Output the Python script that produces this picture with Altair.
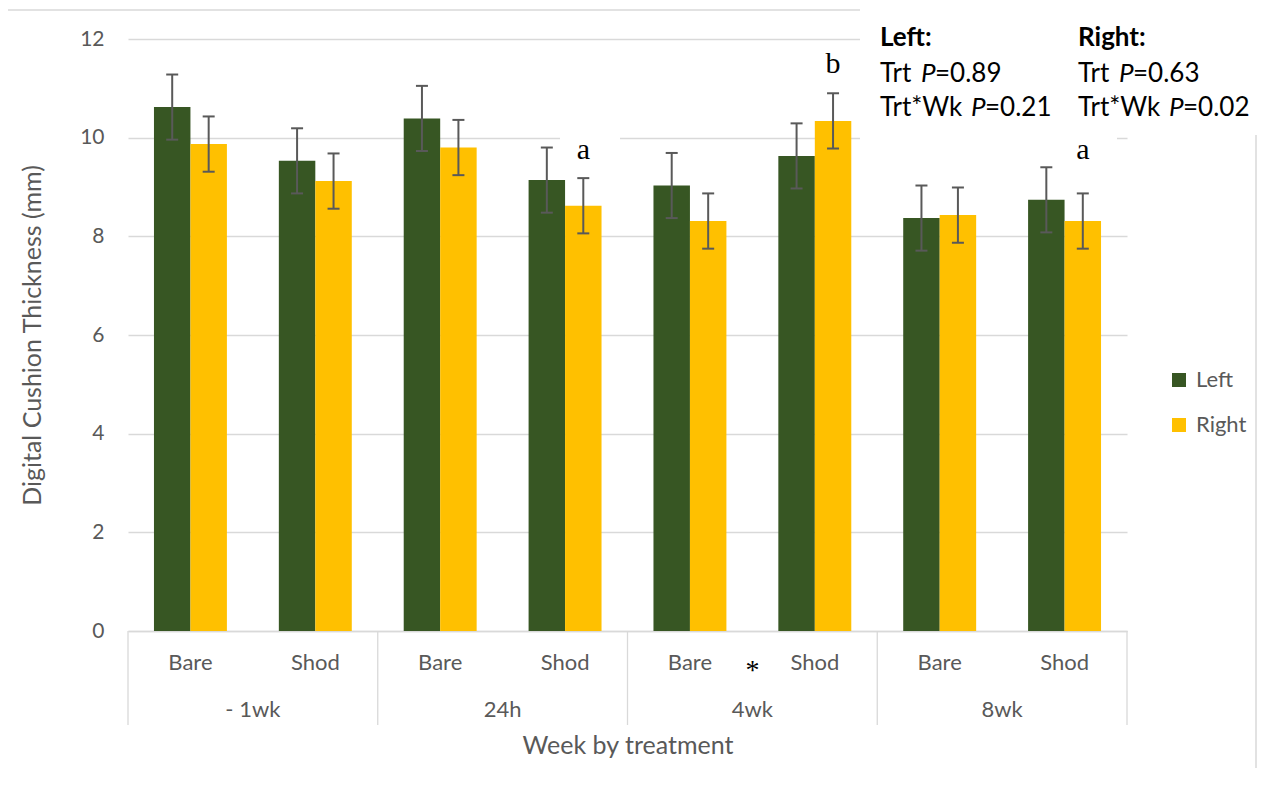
import altair as alt
import pandas as pd

# ---------------- data ----------------
weeks = ["- 1wk", "24h", "4wk", "8wk"]
treatments = ["Bare", "Shod"]
sides = ["Left", "Right"]
side_colors = ["#375623", "#FFC000"]

left_mean = [10.62, 9.53, 10.39, 9.14, 9.03, 9.63, 8.37, 8.74]
right_mean = [9.87, 9.12, 9.80, 8.62, 8.31, 10.34, 8.43, 8.31]
left_se = [0.66, 0.66, 0.66, 0.66, 0.66, 0.66, 0.66, 0.66]
right_se = [0.56, 0.56, 0.56, 0.56, 0.56, 0.56, 0.56, 0.56]

letter_week = ["24h", "4wk", "8wk"]
letter_trt = ["Shod", "Shod", "Shod"]
letter_side = ["Right", "Right", "Right"]
letter_text = ["a", "b", "a"]
letter_y = [9.75, 11.5, 9.75]

star_week = ["4wk"]
star_text = ["*"]

# ---------------- tables ----------------
keys = [f"{w}|{t}" for w in weeks for t in treatments]
rows = []
for i, k in enumerate(keys):
    rows.append({"key": k, "side": "Left", "mean": left_mean[i],
                 "lo": left_mean[i] - left_se[i], "hi": left_mean[i] + left_se[i]})
    rows.append({"key": k, "side": "Right", "mean": right_mean[i],
                 "lo": right_mean[i] - right_se[i], "hi": right_mean[i] + right_se[i]})
df = pd.DataFrame(rows)
caps_df = pd.concat([
    df[["key", "side", "lo"]].rename(columns={"lo": "v"}),
    df[["key", "side", "hi"]].rename(columns={"hi": "v"}),
])
letters_df = pd.DataFrame({
    "key": [f"{w}|{t}" for w, t in zip(letter_week, letter_trt)],
    "side": letter_side, "text": letter_text, "y": letter_y,
})
weeks_df = pd.DataFrame({"week": weeks})
star_df = pd.DataFrame({"week": star_week, "text": star_text})

GRAY = "#595959"
LINE = "#d9d9d9"
SANS = "Lato"
SERIF = "Liberation Serif"

x_axis = alt.Axis(
    labelExpr="split(datum.value, '|')[1]", labelAngle=0, labelFontSize=22,
    labelColor=GRAY, labelBaseline="middle", labelPadding=31, ticks=False, tickSize=0,
    domainColor=LINE, domainWidth=1.3, title="Week by treatment", titleFontSize=25,
    titleColor=GRAY, titleFontWeight="normal", titleY=114, titleX=499.5,
    titleAlign="center", titleBaseline="middle", grid=False,
)
x_scale = alt.Scale(domain=keys, paddingInner=0, paddingOuter=0)
def X():
    return alt.X("key:N", scale=x_scale, axis=x_axis, title="Week by treatment")

xoff = alt.XOffset("side:N", scale=alt.Scale(domain=sides, paddingInner=0, paddingOuter=0.712))

y_scale = alt.Scale(domain=[0, 12], nice=False)
y_axis = alt.Axis(
    values=[0, 2, 4, 6, 8, 10, 12], labelFontSize=21, labelColor=GRAY, labelPadding=24,
    ticks=False, tickSize=0, domain=False, gridColor=LINE, gridWidth=1.3,
    title="Digital Cushion Thickness (mm)", titleFontSize=25, titleColor=GRAY,
    titleFontWeight="normal", titleX=-96, titleY=296, titleAngle=270,
    titleAlign="center", titleBaseline="middle",
)
def Y(field):
    return alt.Y(field, scale=y_scale, axis=y_axis, title="Digital Cushion Thickness (mm)")

color = alt.Color(
    "side:N", scale=alt.Scale(domain=sides, range=side_colors),
    legend=alt.Legend(orient="none", legendX=1040, legendY=330, title=None,
                      symbolType="square", symbolSize=196, symbolStrokeWidth=0,
                      labelFontSize=22, labelColor=GRAY, rowPadding=23,
                      labelOffset=6, padding=0),
)

bars = alt.Chart(df).mark_bar().encode(x=X(), xOffset=xoff, y=Y("mean:Q"), color=color)
err = alt.Chart(df).mark_rule(color=GRAY, strokeWidth=2).encode(
    x=X(), xOffset=xoff, y=Y("lo:Q"), y2="hi:Q")
caps = alt.Chart(caps_df).mark_point(shape="M-1,0L1,0", size=144, color=GRAY,
                                     strokeWidth=2, filled=False, opacity=1).encode(
    x=X(), xOffset=xoff, y=Y("v:Q"))
letters = alt.Chart(letters_df).mark_text(font=SERIF, fontSize=30, color="black",
                                          baseline="middle").encode(
    x=X(), xOffset=xoff, y=Y("y:Q"), text="text:N")
main = alt.layer(bars, err, caps, letters)

# ---- second-level category axis (weeks) ----
wk_scale = alt.Scale(domain=weeks, paddingInner=0, paddingOuter=0)
week_text = alt.Chart(weeks_df).mark_text(font=SANS, fontSize=22, color=GRAY,
                                          baseline="middle").encode(
    x=alt.X("week:N", scale=wk_scale, axis=None), y=alt.value(671), text="week:N")
seps = alt.Chart(weeks_df).mark_rule(color=LINE, strokeWidth=1.3).encode(
    x=alt.X("week:N", scale=wk_scale, axis=None, bandPosition=0),
    y=alt.value(592), y2=alt.value(686))
sep_end = alt.Chart(weeks_df.tail(1)).mark_rule(color=LINE, strokeWidth=1.3).encode(
    x=alt.X("week:N", scale=wk_scale, axis=None, bandPosition=1),
    y=alt.value(592), y2=alt.value(686))
star = alt.Chart(star_df).mark_text(font=SERIF, fontSize=28, color="black",
                                    baseline="middle").encode(
    x=alt.X("week:N", scale=wk_scale, axis=None), y=alt.value(632), text="text:N")
week_layer = alt.layer(seps, sep_end, week_text, star)

# ---- frame and white boxes ----
one = pd.DataFrame({"d": [0]})
frame_left = alt.Chart(one).mark_rule(color=LINE, strokeWidth=1.5).encode(
    x=alt.value(-121), y=alt.value(-29), y2=alt.value(729))
frame_top = alt.Chart(one).mark_rule(color=LINE, strokeWidth=1.5).encode(
    x=alt.value(-121), x2=alt.value(732), y=alt.value(-29))
frame_right = alt.Chart(one).mark_rule(color=LINE, strokeWidth=1.5).encode(
    x=alt.value(1128), y=alt.value(96), y2=alt.value(729))
box1 = alt.Chart(one).mark_rect(color="white").encode(
    x=alt.value(732), x2=alt.value(1002), y=alt.value(-19), y2=alt.value(81))
box2 = alt.Chart(one).mark_rect(color="white").encode(
    x=alt.value(732), x2=alt.value(989), y=alt.value(81), y2=alt.value(103))
box3 = alt.Chart(one).mark_rect(color="white").encode(
    x=alt.value(432), x2=alt.value(492), y=alt.value(92), y2=alt.value(106))

# ---- P-value annotation ----
bold_df = pd.DataFrame({"t": ["Left:", "Right:"], "x": [752, 950], "y": [-1, -1]})
norm_df = pd.DataFrame({
    "t": ["Trt", "=0.89", "Trt*Wk", "=0.21", "Trt", "=0.63", "Trt*Wk", "=0.02"],
    "x": [752, 807, 752, 857, 950, 1005, 950, 1055],
    "y": [35, 35, 69, 69, 35, 35, 69, 69],
})
ital_df = pd.DataFrame({"t": ["P", "P", "P", "P"], "x": [793, 843, 991, 1041],
                        "y": [35, 69, 35, 69]})
def ann(d, **kw):
    return alt.Chart(d).mark_text(font=SANS, fontSize=26, color="black", align="left",
                                  baseline="middle", **kw).encode(
        x=alt.X("x:Q", scale=None, axis=None), y=alt.Y("y:Q", scale=None, axis=None),
        text="t:N")
ann_bold = ann(bold_df, fontWeight="bold")
ann_norm = ann(norm_df)
ann_ital = ann(ital_df, fontStyle="italic")

chart = alt.layer(
    frame_left, frame_top, frame_right, box1, box2, box3,
    main, week_layer, ann_bold, ann_norm, ann_ital,
).resolve_scale(x="independent").properties(
    width=999, height=592,
    autosize=alt.AutoSizeParams(type="none"),
    padding={"left": 120, "top": 31, "right": 130, "bottom": 137},
).configure(font=SANS, background="white").configure_view(stroke=None)

chart.save("out.html", embed_options={"renderer": "svg", "actions": False})
